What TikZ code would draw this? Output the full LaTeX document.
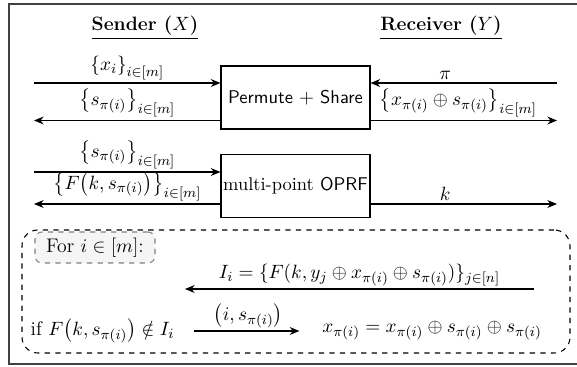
\documentclass[tikz,border=0pt]{standalone}
\usepackage{amsmath,amssymb}
\usetikzlibrary{arrows.meta}
\begin{document}
\fontsize{11.2}{14}\selectfont
\begin{tikzpicture}[>={Stealth[length=5.5pt,width=4.5pt]},semithick,
  blk/.style={draw,minimum width=2.98cm,minimum height=1.26cm,inner sep=0pt,font=\fontsize{10.5}{12}\selectfont},
  lbl/.style={above,inner sep=1.5pt},
  hd/.style={font=\fontsize{11}{14}\selectfont\bfseries}]
\useasboundingbox (0,0) rectangle (11.54,7.34);
\draw[gray!50!black,line width=1.1pt](11.8,7.26)--(0.18,7.26)--(0.18,0.06)--(11.8,0.06);
\node[hd](snd) at (2.90,6.78){\underline{Sender ($X$)}};
\node[hd](rcv) at (8.82,6.78){\underline{Receiver ($Y$)}};
\node[blk](ps) at (5.91,5.39){\textsf{Permute} $+$ \textsf{Share}};
\node[blk](op) at (5.91,3.62){multi-point \textsf{OPRF}};
\coordinate(sa) at (0.68,5.68);\coordinate(sb) at (0.68,4.93);
\coordinate(ra) at (11.14,5.68);\coordinate(rb) at (11.14,4.93);
\coordinate(sc) at (0.68,3.90);\coordinate(sd) at (0.68,3.26);
\coordinate(rd) at (11.14,3.26);
\draw[->](sa)--(sa-|ps.west) node[lbl,midway](lxi){$\left\{x_i\right\}_{i\in[m]}$};
\draw[->](sb-|ps.west)--(sb) node[lbl,midway](lsp){$\left\{s_{\pi(i)}\right\}_{i\in[m]}$};
\draw[->](ra)--(ra-|ps.east) node[lbl,pos=0.6](lpi){$\pi$};
\draw[->](rb-|ps.east)--(rb) node[lbl,pos=0.47](lxs){$\left\{x_{\pi(i)}\oplus s_{\pi(i)}\right\}_{i\in[m]}$};
\draw[->](sc)--(sc-|op.west) node[lbl,midway](lsq){$\left\{s_{\pi(i)}\right\}_{i\in[m]}$};
\draw[->](sd-|op.west)--(sd) node[lbl,midway](lfk){$\left\{F\bigl(k,s_{\pi(i)}\bigr)\right\}_{i\in[m]}$};
\draw[->](rd-|op.east)--(rd) node[lbl,pos=0.4](lk){$k$};
% per-element check
\node[draw,dashed,rounded corners=9pt,minimum width=10.96cm,minimum height=2.46cm](lp) at (5.92,1.51){};
\node[draw=gray,dashed,fill=gray!8,rounded corners=4pt,inner sep=2pt,minimum width=2.4cm,minimum height=0.62cm](fr) at (1.90,2.39){For $i\in[m]$:};
\coordinate(ia) at (10.68,1.56);\coordinate(ib) at (3.70,1.56);
\draw[->](ia)--(ib) node[lbl,midway](lii){$I_i=\{F(k,y_j\oplus x_{\pi(i)}\oplus s_{\pi(i)})\}_{j\in[n]}$};
\node(cnd) at (2.05,0.72){if $F\bigl(k,s_{\pi(i)}\bigr)\notin I_i$};
\node(res) at (8.64,0.72){$x_{\pi(i)}=x_{\pi(i)}\oplus s_{\pi(i)}\oplus s_{\pi(i)}$};
\draw[->,shorten <=7pt,shorten >=9pt](cnd)--(res) node[lbl,midway](lis){$\bigl(i,s_{\pi(i)}\bigr)$};
\end{tikzpicture}
\end{document}
